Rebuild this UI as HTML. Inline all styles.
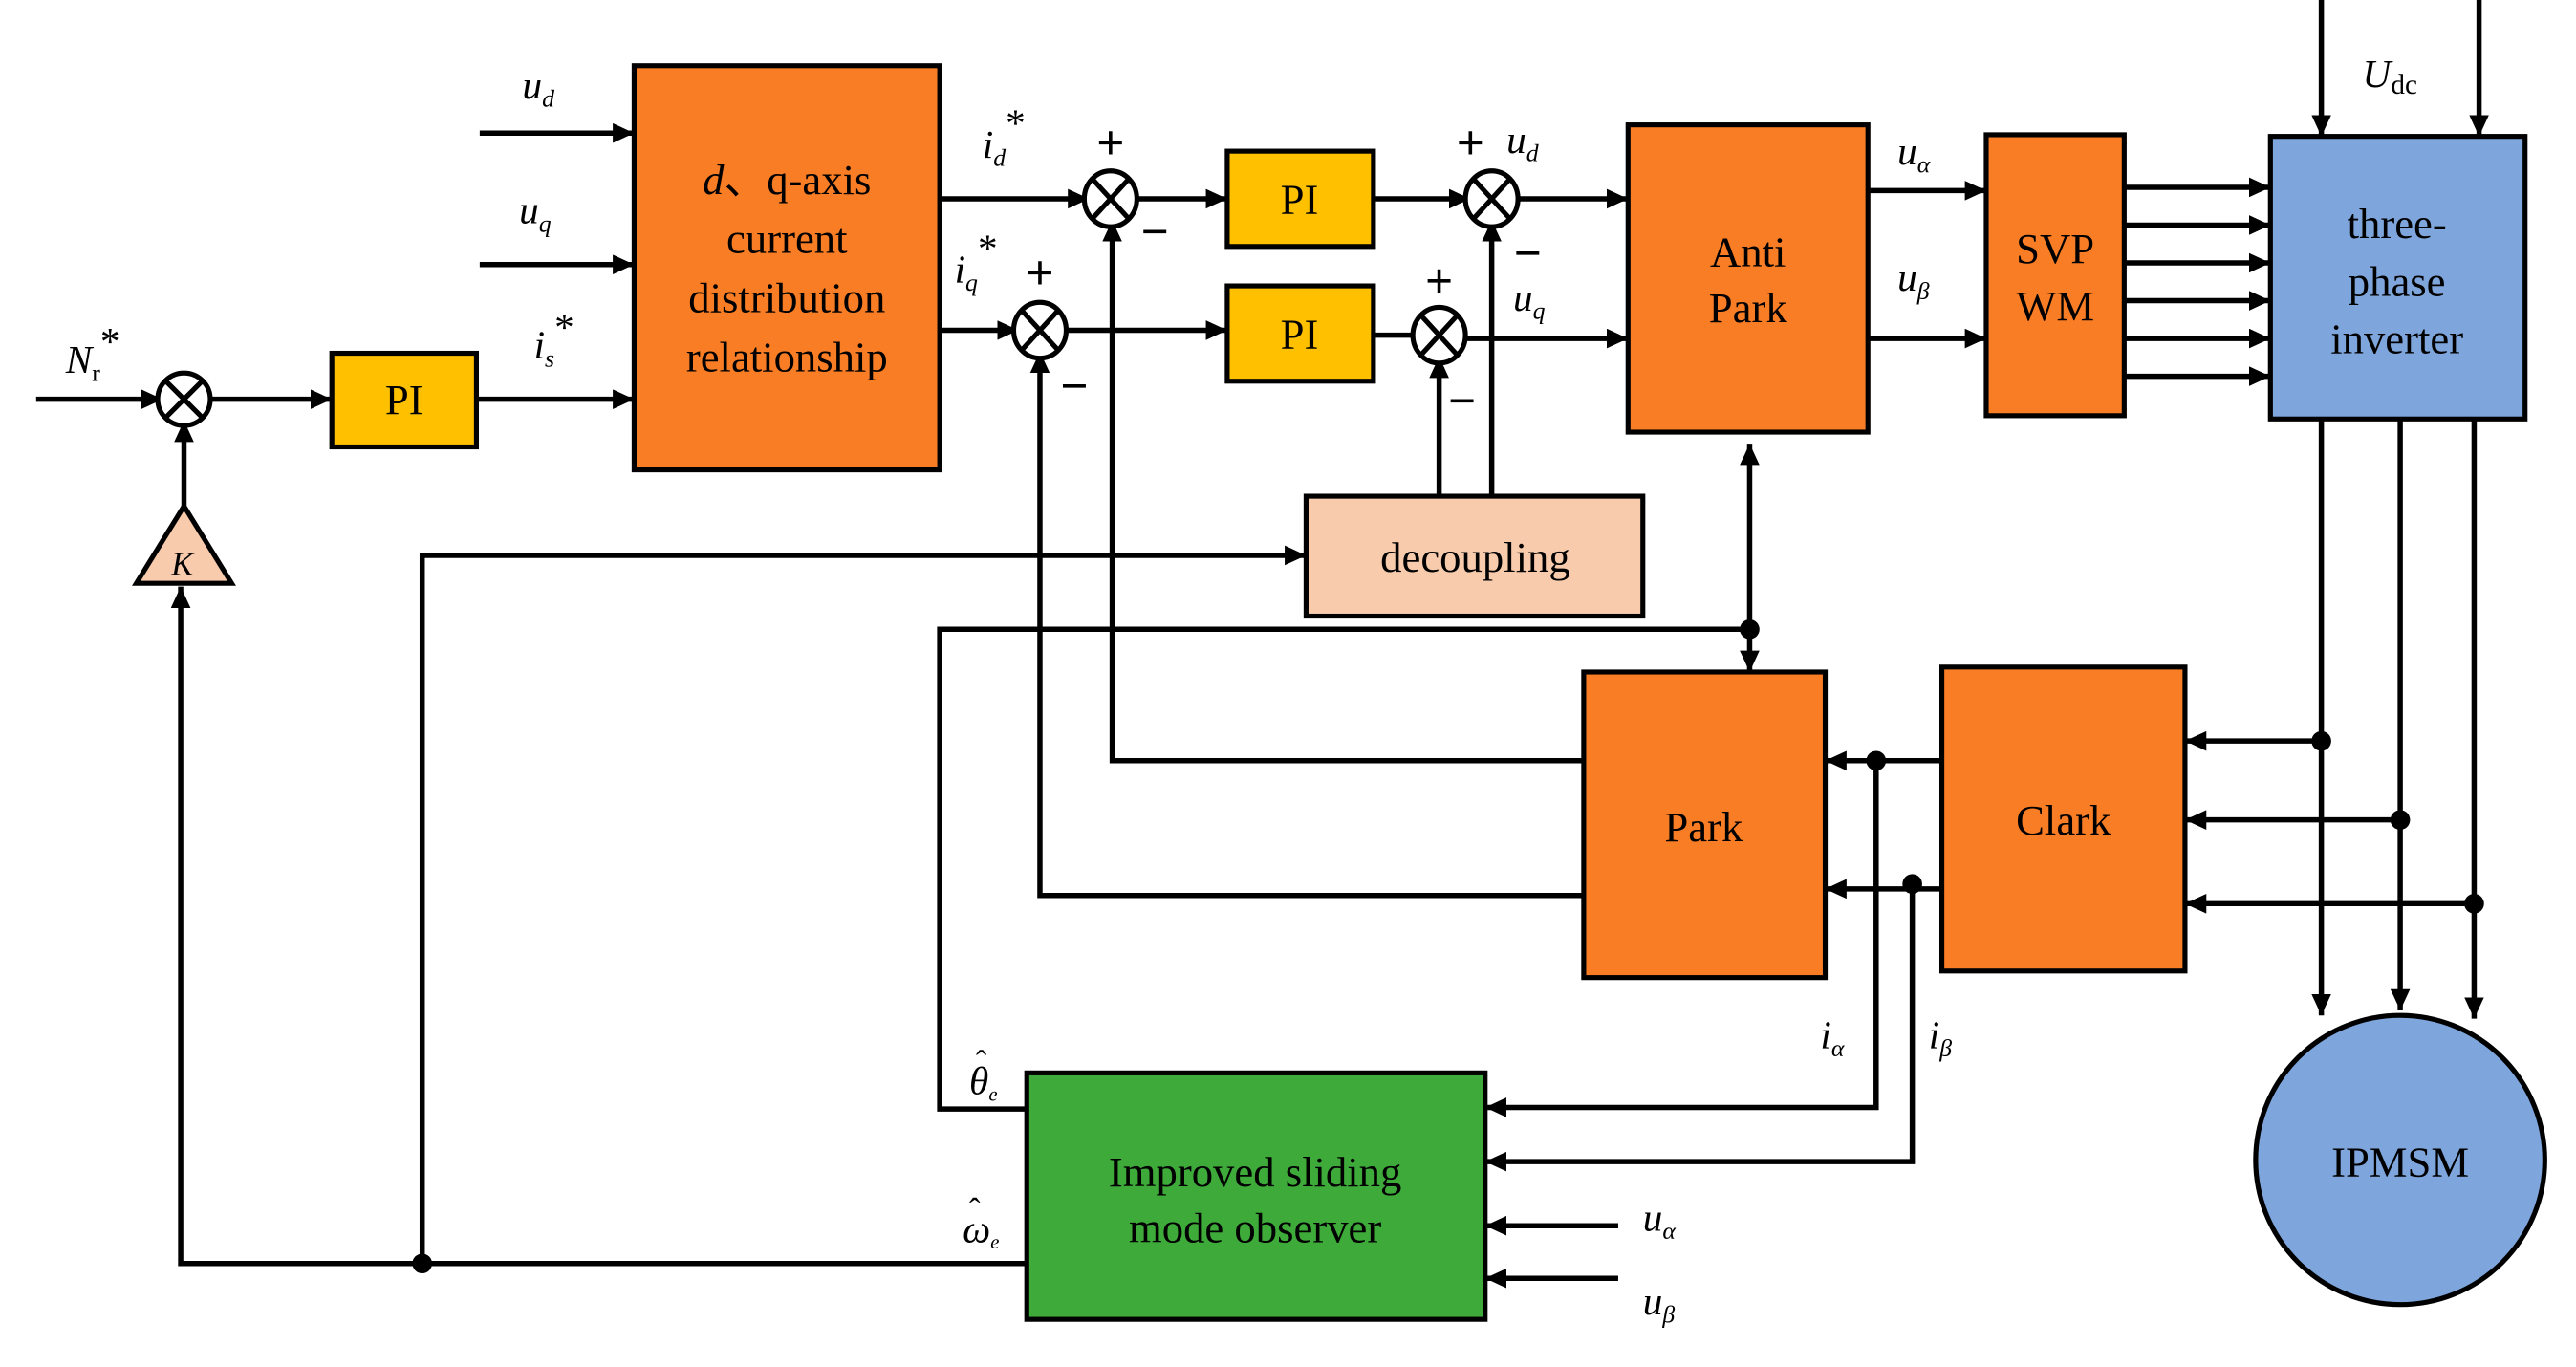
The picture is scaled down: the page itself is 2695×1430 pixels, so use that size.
<!DOCTYPE html>
<html><head><meta charset="utf-8"><style>
html,body{margin:0;padding:0;background:#fff}
svg{display:block}
text{font-family:"Liberation Serif",serif;fill:#000}
.i{font-style:italic}
</style></head><body>
<svg width="2695" height="1430" viewBox="0 0 1568 832" xmlns="http://www.w3.org/2000/svg">
<defs>
<marker id="b" viewBox="0 0 10 10" refX="10" refY="5" markerWidth="13" markerHeight="12" orient="auto-start-reverse" markerUnits="userSpaceOnUse" preserveAspectRatio="none"><path d="M0,0L10,5L0,10z" fill="#000"/></marker></defs>
<g stroke="#000" stroke-width="3.2" fill="none" marker-end="url(#b)">
<path d="M22 243H99"/><path d="M125 243H202"/><path d="M290 243H386"/>
<path d="M292 81H386"/><path d="M292 161H386"/>
<path d="M572 121H663"/><path d="M689 121H747"/><path d="M836 121H895"/><path d="M921 121H991"/>
<path d="M572 201H620"/><path d="M646 201H747"/><path d="M836 204H863" marker-end="none"/><path d="M889 206H991"/>
<path d="M1137 116H1209"/><path d="M1137 206H1209"/>
<path d="M1293 114H1382"/><path d="M1293 137H1382"/><path d="M1293 160H1382"/><path d="M1293 183H1382"/><path d="M1293 206H1382"/><path d="M1293 229H1382"/>
<path d="M1413 0V83"/><path d="M1509 0V83"/>
<path d="M1413 255V618"/><path d="M1461 255V615"/><path d="M1506 255V620"/>
<path d="M1413 451H1330"/><path d="M1461 499H1330"/><path d="M1506 550H1330"/>
<path d="M1182 463H1111"/><path d="M1182 541H1111"/>
<path d="M1142 463V674H904"/><path d="M1164 538V707H904"/>
<path d="M985 746H904"/><path d="M985 778H904"/>
<path d="M964 463H677V134"/><path d="M964 545H633V214"/>
<path d="M876 302V217"/><path d="M908 302V134"/>
<path d="M1065 270V409" marker-start="url(#b)"/>
<path d="M1065 383H572V675H625" marker-end="none"/>
<path d="M625 769H110V357"/>
<path d="M257 769V338H795"/>
<path d="M112 308V256"/>
</g>
<g stroke="#000" stroke-width="3">
<rect x="386" y="40" width="186" height="246" fill="#F97D25"/>
<rect x="202" y="215" width="88" height="57" fill="#FFC000"/>
<rect x="747" y="92" width="89" height="58" fill="#FFC000"/>
<rect x="747" y="174" width="89" height="58" fill="#FFC000"/>
<rect x="991" y="76" width="146" height="187" fill="#F97D25"/>
<rect x="1209" y="82" width="84" height="171" fill="#F97D25"/>
<rect x="1382" y="83" width="155" height="172" fill="#7EA6DC"/>
<rect x="795" y="302" width="205" height="73" fill="#F8CBAD"/>
<rect x="964" y="409" width="147" height="186" fill="#F97D25"/>
<rect x="1182" y="406" width="148" height="185" fill="#F97D25"/>
<circle cx="1461" cy="706" r="88" fill="#7EA6DC"/>
<rect x="625" y="653" width="279" height="150" fill="#3EAA3A"/>
<path d="M112 308L83 355H141z" fill="#F8CBAD"/>
</g>
<g stroke="#000" stroke-width="3" fill="#fff">
<ellipse cx="112" cy="243" rx="16" ry="16"/><path d="M101 232L123 254M123 232L101 254"/>
<ellipse cx="676" cy="121" rx="16" ry="17"/><path d="M665 109L687 133M687 109L665 133"/>
<ellipse cx="633" cy="201" rx="16" ry="17"/><path d="M622 189L644 213M644 189L622 213"/>
<ellipse cx="908" cy="121" rx="16" ry="17"/><path d="M897 109L919 133M919 109L897 133"/>
<ellipse cx="876" cy="204" rx="16" ry="17"/><path d="M865 192L887 216M887 192L865 216"/>
</g>
<g fill="#000"><circle cx="1065" cy="383" r="6"/><circle cx="1413" cy="451" r="6"/><circle cx="1461" cy="499" r="6"/><circle cx="1506" cy="550" r="6"/><circle cx="1142" cy="463" r="6"/><circle cx="1164" cy="538" r="6"/><circle cx="257" cy="769" r="6"/></g>
<g font-size="26" text-anchor="middle">
<text x="479" y="118"><tspan class="i">d</tspan>、q-axis</text>
<text x="479" y="154">current</text><text x="479" y="190">distribution</text><text x="479" y="226">relationship</text>
<text x="246" y="252">PI</text><text x="791" y="130">PI</text><text x="791" y="212">PI</text>
<text x="1064" y="162">Anti</text><text x="1064" y="196">Park</text>
<text x="1251" y="160">SVP</text><text x="1251" y="195">WM</text>
<text x="1459" y="145">three-</text><text x="1459" y="180">phase</text><text x="1459" y="215">inverter</text>
<text x="898" y="348">decoupling</text>
<text x="1037" y="512">Park</text><text x="1256" y="508">Clark</text>
<text x="1461" y="716">IPMSM</text>
<text x="764" y="722">Improved sliding</text><text x="764" y="756">mode observer</text>
<text x="111" y="350" font-size="20" class="i">K</text>
</g>
<g font-size="24" class="i">
<text x="318" y="60">u<tspan font-size="15" dy="5">d</tspan></text>
<text x="316" y="136">u<tspan font-size="15" dy="5">q</tspan></text>
<text x="325" y="218">i<tspan font-size="15" dy="5">s</tspan><tspan dy="-16" font-style="normal">*</tspan></text>
<text x="40" y="227">N<tspan font-size="15" dy="5" font-style="normal">r</tspan><tspan dy="-16" font-style="normal">*</tspan></text>
<text x="598" y="96">i<tspan font-size="15" dy="5">d</tspan><tspan dy="-18" font-style="normal">*</tspan></text>
<text x="581" y="172">i<tspan font-size="15" dy="5">q</tspan><tspan dy="-18" font-style="normal">*</tspan></text>
<text x="917" y="93">u<tspan font-size="15" dy="5">d</tspan></text>
<text x="921" y="189">u<tspan font-size="15" dy="5">q</tspan></text>
<text x="1155" y="100">u<tspan font-size="15" dy="5">α</tspan></text>
<text x="1155" y="177">u<tspan font-size="15" dy="5">β</tspan></text>
<text x="1438" y="53">U<tspan font-size="17" dy="4" font-style="normal">dc</tspan></text>
<text x="1108" y="638">i<tspan font-size="15" dy="5">α</tspan></text>
<text x="1174" y="638">i<tspan font-size="15" dy="5">β</tspan></text>
<text x="1000" y="749">u<tspan font-size="15" dy="5">α</tspan></text>
<text x="1000" y="800">u<tspan font-size="15" dy="5">β</tspan></text>
<text x="590" y="666">θ<tspan font-size="12" dy="4">e</tspan></text>
<text x="594" y="653" font-style="normal" font-size="20">ˆ</text>
<text x="586" y="756">ω<tspan font-size="12" dy="4">e</tspan></text>
<text x="590" y="743" font-style="normal" font-size="20">ˆ</text>
</g>
<g font-size="30" font-weight="bold" font-family="Liberation Sans" text-anchor="middle">
<text x="676" y="97" font-family="Liberation Sans">+</text><text x="703" y="151" font-family="Liberation Sans">−</text>
<text x="633" y="176" font-family="Liberation Sans">+</text><text x="654" y="245" font-family="Liberation Sans">−</text>
<text x="895" y="97" font-family="Liberation Sans">+</text><text x="930" y="164" font-family="Liberation Sans">−</text>
<text x="876" y="181" font-family="Liberation Sans">+</text><text x="890" y="254" font-family="Liberation Sans">−</text>
</g>
</svg>
</body></html>
